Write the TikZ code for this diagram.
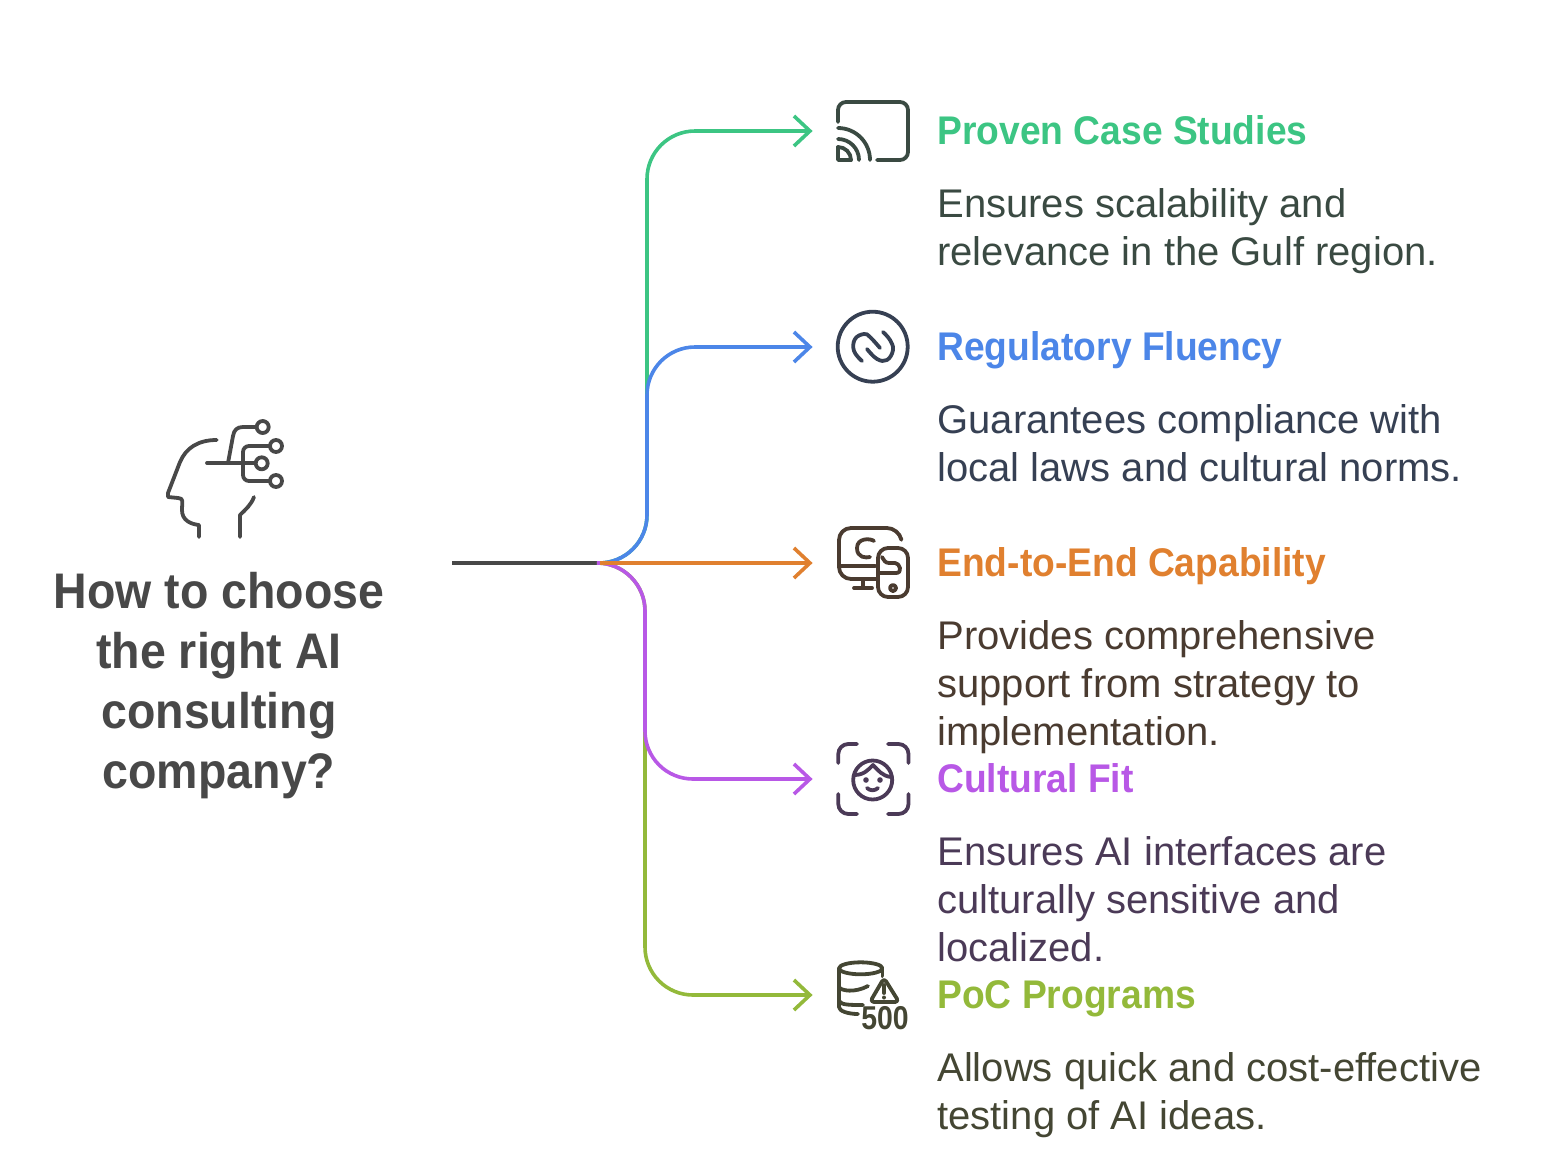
\documentclass[tikz,border=0pt]{standalone}
\usepackage{fontspec}
\setmainfont{Liberation Sans}
\newfontfamily\headfont[FakeStretch=.93]{Liberation Sans}
\newfontfamily\codefont[FakeStretch=.86]{Liberation Sans}
\usetikzlibrary{arrows.meta}
\definecolor{darkgray}{HTML}{484848}
\definecolor{greenA}{HTML}{3CC583}
\definecolor{blueB}{HTML}{4C86E8}
\definecolor{orangeC}{HTML}{E0802F}
\definecolor{purpleD}{HTML}{B858E6}
\definecolor{oliveE}{HTML}{93B93A}
\definecolor{inkA}{HTML}{3A4A42}
\definecolor{inkB}{HTML}{364053}
\definecolor{inkC}{HTML}{4A3B30}
\definecolor{inkD}{HTML}{4B3A57}
\definecolor{inkE}{HTML}{444633}
\tikzset{
  branch/.style={line width=1.8pt,rounded corners=24pt,-{Straight Barb[length=8pt,width=15pt]}},
  iconbox/.style={minimum size=60pt,inner sep=0pt},
  iconline/.style={line width=1.9pt,line cap=round,line join=round},
  headline/.style={anchor=base west,inner sep=0pt,font=\headfont\bfseries\fontsize{20}{24}\selectfont},
  bodytext/.style={anchor=north west,inner sep=0pt,align=left,font=\fontsize{20}{24}\selectfont},
}
\begin{document}
\begin{tikzpicture}[x=.5pt,y=-.5pt]
  \useasboundingbox (0,0) rectangle (1555,1174);
  \coordinate (start) at (452,563);
  \coordinate (hub) at (600,563);
  \node[iconbox] (iconA) at (873,131) {};
  \node[iconbox] (iconB) at (873,347) {};
  \node[iconbox] (iconC) at (873,563) {};
  \node[iconbox] (iconD) at (873,779) {};
  \node[iconbox] (iconE) at (873,995) {};
  \coordinate (railA) at (647,131);
  \coordinate (railB) at (647,347);
  \coordinate (railD) at (645,779);
  \coordinate (railE) at (645,995);

  \draw[line width=1.8pt,darkgray] (start) -- (hub);
  \draw[branch,greenA] (hub) -| (railA) -- (iconA.west);
  \draw[branch,oliveE] (hub) -| (railE) -- (iconE.west);
  \draw[branch,blueB] (hub) -| (railB) -- (iconB.west);
  \draw[branch,purpleD] (hub) -| (railD) -- (iconD.west);
  \draw[branch,orangeC] (hub) -- (iconC.west);

  \node[align=center,inner sep=0pt,text=darkgray,font=\headfont\bfseries\fontsize{25}{30}\selectfont] (title) at (219,686)
    {How to choose\\the right AI\\consulting\\company?};

  \node[headline,text=greenA] (headA) at (937,144.5) {Proven Case Studies};
  \node[bodytext,text=inkA] (bodyA) at (937,188) {Ensures scalability and\\relevance in the Gulf region.};
  \node[headline,text=blueB] (headB) at (937,360.5) {Regulatory Fluency};
  \node[bodytext,text=inkB] (bodyB) at (937,404) {Guarantees compliance with\\local laws and cultural norms.};
  \node[headline,text=orangeC] (headC) at (937,576.5) {End-to-End Capability};
  \node[bodytext,text=inkC] (bodyC) at (937,620) {Provides comprehensive\\support from strategy to\\implementation.};
  \node[headline,text=purpleD] (headD) at (937,792.5) {Cultural Fit};
  \node[bodytext,text=inkD] (bodyD) at (937,836) {Ensures AI interfaces are\\culturally sensitive and\\localized.};
  \node[headline,text=oliveE] (headE) at (937,1008.5) {PoC Programs};
  \node[bodytext,text=inkE] (bodyE) at (937,1052) {Allows quick and cost-effective\\testing of AI ideas.};

  \begin{scope}[iconline,darkgray]
    \draw (216.7,440) .. controls (198,440) and (186,448) .. (180,462) -- (168,493) -- (168,497) -- (178,498)
      .. controls (184,498) and (182,502) .. (182,510) .. controls (182,520) and (190,524) .. (199,525) -- (199,537);
    \draw (254,497) .. controls (251,505) and (246,509) .. (240,515) -- (240,537);
    \draw (207,463) -- (255,463);
    \draw (228,463) -- (233,436) .. controls (234,430) and (237,427) .. (243,427) -- (256,427);
    \draw[rounded corners=3pt] (270,446) -- (243,446) -- (243,481) -- (270,481);
    \draw (262.7,427) circle[radius=6];
    \draw (276,446) circle[radius=6];
    \draw (261.7,463.3) circle[radius=6];
    \draw (276,481) circle[radius=6];
  \end{scope}

  \begin{scope}[iconline,inkA]
    \draw[rounded corners=4pt] (838,122) -- (838,102) -- (908,102) -- (908,160) -- (877,160);
    \draw (838,128) arc[start angle=-90,end angle=0,radius=32];
    \draw (838,139) arc[start angle=-90,end angle=0,radius=21];
    \draw (838,147) arc[start angle=-90,end angle=0,radius=13];
    \draw (838,147) -- (838,160) -- (851,160);
  \end{scope}

  \begin{scope}[iconline,inkB]
    \draw (872.7,346.7) circle[radius=35];
    \draw plot[smooth,tension=.7] coordinates {(862,361) (854,351) (855,339) (864,334) (870,337) (880,348)};
    \draw plot[smooth,tension=.7] coordinates {(867,349) (877,359) (887,360) (893,350) (890,340) (883,332)};
  \end{scope}

  \begin{scope}[iconline,inkC]
    \draw[rounded corners=6pt] (901,538) -- (899,528) -- (839,528) -- (839,579) -- (877,579);
    \draw (839,566) -- (875,566);
    \draw (863,579) -- (863,588);
    \draw (854,588) -- (872,588);
    \draw (874,541) .. controls (870,538) and (857,538) .. (857,548) .. controls (857,558) and (866,558) .. (870,557);
    \draw[rounded corners=5pt] (878,548) rectangle (908,597);
    \draw (882,557) .. controls (884,560) and (885,563) .. (889,563) -- (895,563) .. controls (900,563) and (903,573) .. (896,573) -- (879,573);
    \draw (893,588) circle[radius=3];
  \end{scope}

  \begin{scope}[iconline,inkD]
    \draw[rounded corners=5pt] (838.3,763) -- (838.3,744) -- (857,744);
    \draw[rounded corners=5pt] (888,744) -- (908.5,744) -- (908.5,763);
    \draw[rounded corners=5pt] (838.3,794) -- (838.3,814) -- (857,814);
    \draw[rounded corners=5pt] (888,814) -- (908.5,814) -- (908.5,794);
    \draw (872.7,780) circle[radius=19.5];
    \draw (854,775) .. controls (864,775) and (868,770) .. (873,765) .. controls (878,770) and (882,776) .. (891,777);
    \fill (866,780) circle[radius=2.8];
    \fill (880,780) circle[radius=2.8];
    \draw (867,788) .. controls (870,791) and (875,791) .. (878,788);
  \end{scope}

  \begin{scope}[iconline,inkE]
    \draw (860.7,968.3) circle[x radius=21.7,y radius=6];
    \draw (839,968.3) -- (839,1007) .. controls (839,1011) and (848,1014) .. (858,1014);
    \draw (839,987) .. controls (841,991) and (855,993) .. (868,986);
    \draw (839,1001) .. controls (841,1005) and (850,1005) .. (863,1005);
    \draw (882.4,968.3) -- (882.4,976);
    \draw[rounded corners=2pt] (884,978) -- (899,1002) -- (870,1002) -- cycle;
    \draw (884,985) -- (884,993);
    \fill (884,997.5) circle[radius=2];
    \node[inner sep=0pt,font=\codefont\bfseries\fontsize{16.5}{16.5}\selectfont] (code) at (885,1018.5) {500};
  \end{scope}
\end{tikzpicture}
\end{document}
